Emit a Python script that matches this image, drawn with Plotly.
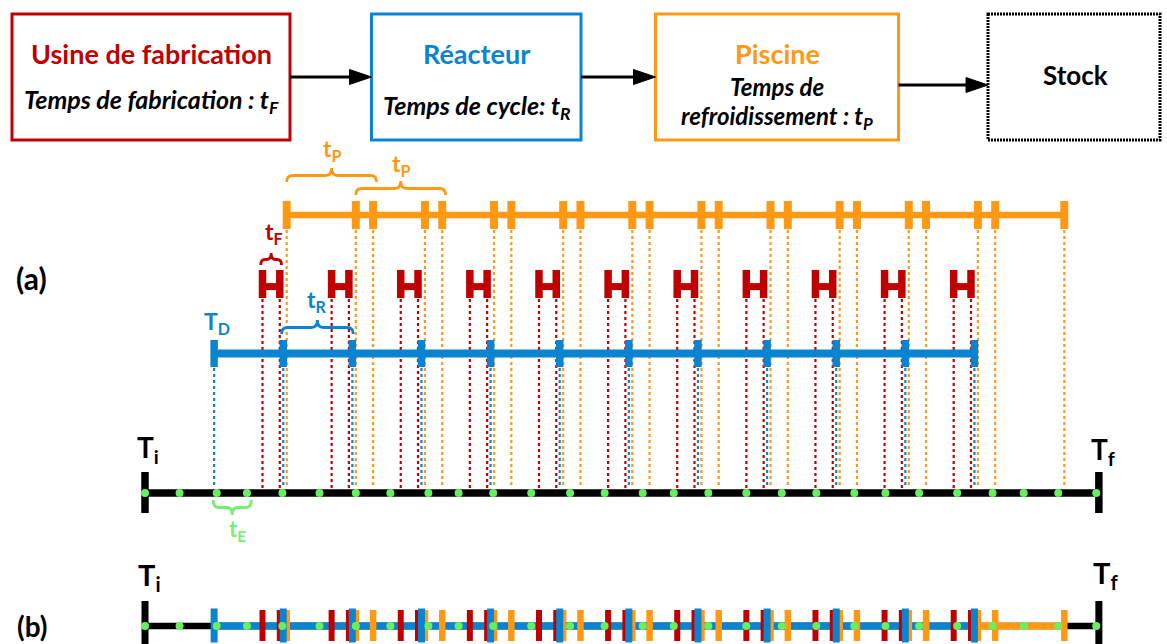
import plotly.graph_objects as go

# ---------------- data ----------------
stage_names = ["Usine de fabrication", "Réacteur", "Piscine", "Stock"]
stage_details = ["Temps de fabrication : t<sub>F</sub>",
                 "Temps de cycle: t<sub>R</sub>",
                 "Temps de<br>refroidissement : t<sub>P</sub>",
                 ""]

T_INIT = 0.0
T_FINAL = 55.2
T_D = 4.0
reactor_times = [4, 8, 12, 16, 20, 24, 28, 32, 36, 40, 44, 48]
fab_start = [6.8, 10.8, 14.8, 18.8, 22.8, 26.8, 30.8, 34.8, 38.8, 42.8, 46.8]
fab_end = [7.8, 11.8, 15.8, 19.8, 23.8, 27.8, 31.8, 35.8, 39.8, 43.8, 47.8]
pool_in = [8.2, 12.2, 16.2, 20.2, 24.2, 28.2, 32.2, 36.2, 40.2, 44.2, 48.2]
pool_out = [13.2, 17.2, 21.2, 25.2, 29.2, 33.2, 37.2, 41.2, 45.2, 49.2, 53.2]
exchange_times = [0, 2, 4.15, 5.9, 7.95, 10.1, 12.2, 14.2, 16.4, 18.15, 20.15,
                  22.35, 24.6, 26.6, 28.8, 30.6, 32.6, 34.8, 36.85, 38.85, 41.05,
                  42.85, 44.8, 47, 49.05, 50.85, 52.85, 55.05]

# ---------------- style ----------------
RED = "#C00000"
BLUE = "#0A84D0"
ORANGE = "#FF9914"
GREEN = "#66F060"
GREEN_TXT = "#74F074"
BLACK = "#000000"
FONT = "Lato"
W, H = 1167, 644
PX_PER_T = 17.28
X0_PX = 145

fig = go.Figure()


def segs(times, y0, y1):
    xs, ys = [], []
    for t in times:
        xs += [t, t, None]
        ys += [y0, y1, None]
    return xs, ys


def add_lines(xs, ys, color, width, dash=None):
    fig.add_trace(go.Scatter(x=xs, y=ys, mode="lines", hoverinfo="skip",
                             showlegend=False,
                             line=dict(color=color, width=width, dash=dash)))


def add_ticks(times, y0, y1, color, width):
    xs, ys = segs(times, y0, y1)
    add_lines(xs, ys, color, width)


def add_dots(times, y):
    fig.add_trace(go.Scatter(x=times, y=[y] * len(times), mode="markers",
                             hoverinfo="skip", showlegend=False,
                             marker=dict(color=GREEN, size=8, line=dict(width=0))))


# ---------- (a) dotted projection lines ----------
xs, ys = segs(pool_in + pool_out, 230, 488)
add_lines(xs, ys, ORANGE, 2.2, "3px,3px")
xs, ys = segs(fab_start + fab_end, 299, 488)
add_lines(xs, ys, RED, 2.2, "3px,3px")
xs, ys = segs(reactor_times, 368, 488)
add_lines(xs, ys, BLUE, 2.2, "3px,3px")

# ---------- (a) pool line ----------
add_lines([pool_in[0], pool_out[-1]], [215, 215], ORANGE, 6.5)
add_ticks(pool_in + pool_out, 201, 229, ORANGE, 8)

# ---------- (a) fabrication "H" ----------
add_ticks(fab_start + fab_end, 270, 298, RED, 7.5)
hx, hy = [], []
for s, e in zip(fab_start, fab_end):
    hx += [s, e, None]
    hy += [286.6, 286.6, None]
add_lines(hx, hy, RED, 7)

# ---------- (a) reactor line ----------
add_lines([T_D, reactor_times[-1]], [353.5, 353.5], BLUE, 8)
add_ticks(reactor_times, 340, 367, BLUE, 7.5)

# ---------- (a) time line ----------
add_lines([T_INIT, T_FINAL], [493, 493], BLACK, 7.5)
add_ticks([T_INIT, T_FINAL], 472, 513, BLACK, 7.5)
add_dots(exchange_times, 493)

# ---------- (b) ----------
YB = 626
add_lines([T_INIT, T_FINAL], [YB, YB], BLACK, 6.5)
add_lines([pool_in[0], pool_out[-1]], [YB, YB], ORANGE, 7)
add_lines([T_D, reactor_times[-1]], [YB, YB], BLUE, 7.5)
add_ticks(pool_in + pool_out, 610, 641, ORANGE, 6.5)
add_ticks(fab_start + fab_end, 610, 641, RED, 6)
add_ticks(reactor_times, 608.5, 642.5, BLUE, 7)
add_ticks([T_INIT, T_FINAL], 601, 650, BLACK, 7)
add_dots(exchange_times, YB)

# ---------- braces ----------


def brace(xa, xb, y_end, y_bar, y_tip, color, r=0.35, width=2.8):
    xm = (xa + xb) / 2
    path = (f"M {xa},{y_end} Q {xa},{y_bar} {xa + r},{y_bar} L {xm - r},{y_bar} "
            f"Q {xm},{y_bar} {xm},{y_tip} Q {xm},{y_bar} {xm + r},{y_bar} "
            f"L {xb - r},{y_bar} Q {xb},{y_bar} {xb},{y_end}")
    fig.add_shape(type="path", path=path, xref="x", yref="y",
                  line=dict(color=color, width=width))


brace(fab_start[0] - 0.1, fab_end[0] + 0.1, 265, 259.5, 253, RED, r=0.25)
brace(reactor_times[1] - 0.1, reactor_times[2] + 0.05, 334, 327.5, 320, BLUE)
brace(pool_in[0], pool_out[0] + 0.2, 182, 175.5, 168, ORANGE)
brace(pool_in[1], pool_out[1] + 0.2, 195, 188.5, 181, ORANGE)
brace(exchange_times[2] - 0.2, exchange_times[3] + 0.25, 500, 507.5, 515, GREEN_TXT, r=0.3)


def label(text, t, dx, baseline, size, color, xref="x"):
    fig.add_annotation(x=t, y=baseline - 0.33 * size, xref=xref, yref="y",
                       xanchor="left", yanchor="middle", xshift=dx - 2,
                       text=text, showarrow=False,
                       font=dict(family=FONT, size=size, color=color))


label("<b>T<sub>i</sub></b>", T_INIT, -8, 458, 28, BLACK)
label("<b>T<sub>f</sub></b>", T_FINAL, -7.5, 460, 28, BLACK)
label("<b>T<sub>i</sub></b>", T_INIT, -7, 586, 29, BLACK)
label("<b>T<sub>f</sub></b>", T_FINAL, -5.5, 584, 29, BLACK)
label("<b>T<sub>D</sub></b>", T_D, -10.5, 330, 23, BLUE)
label("<b>t<sub>F</sub></b>", (fab_start[0] + fab_end[0]) / 2, -6, 240, 23, RED)
label("<b>t<sub>R</sub></b>", (reactor_times[1] + reactor_times[2]) / 2, -11, 308, 23, BLUE)
label("<b>t<sub>P</sub></b>", (pool_in[0] + pool_out[0] + 0.2) / 2, -9, 157, 23, ORANGE)
label("<b>t<sub>P</sub></b>", (pool_in[1] + pool_out[1] + 0.2) / 2, -8.5, 172, 23, ORANGE)
label("<b>t<sub>E</sub></b>", (exchange_times[2] + exchange_times[3]) / 2, -3, 537, 22, GREEN_TXT)

# ---------- top process boxes (layout in pixel axis x2) ----------
boxes = [(12, 290, RED, "solid"), (371.5, 581, BLUE, "solid"),
         (655.5, 898.5, ORANGE, "solid"), (988, 1160, BLACK, "2px,1px")]
for (x0, x1, col, dash) in boxes:
    fig.add_shape(type="rect", xref="x2", yref="y", x0=x0, x1=x1, y0=14, y1=140,
                  line=dict(color=col, width=3, dash=dash), fillcolor="rgba(0,0,0,0)")

arrows = [(290, 371.5, 77), (581, 655.5, 77), (898.5, 988, 85)]
for (a, b, y) in arrows:
    fig.add_shape(type="line", xref="x2", yref="y", x0=a, x1=b - 18, y0=y, y1=y,
                  line=dict(color=BLACK, width=3))
    fig.add_shape(type="path", xref="x2", yref="y",
                  path=f"M {b - 22},{y - 7.5} L {b},{y} L {b - 22},{y + 7.5} Z",
                  fillcolor=BLACK, line=dict(color=BLACK, width=1))

title_pos = [(151, 53, RED, 27), (476, 53, BLUE, 27), (777, 53, ORANGE, 27),
             (1075, 75, BLACK, 26)]
for name, (x, y, col, sz) in zip(stage_names, title_pos):
    fig.add_annotation(x=x, y=y, xref="x2", yref="y", text=f"<b>{name}</b>",
                       showarrow=False, xanchor="center", yanchor="middle",
                       font=dict(family=FONT, size=sz, color=col))

detail_pos = [(151, [101], 25), (477, [107], 25), (777, [86, 117], 24)]
for det, (x, ylist, sz) in zip(stage_details, detail_pos):
    if not det:
        continue
    for line_txt, y in zip(det.split("<br>"), ylist):
        fig.add_annotation(x=x, y=y, xref="x2", yref="y",
                           text=f"<b><i>{line_txt}</i></b>",
                           showarrow=False, xanchor="center", yanchor="middle",
                           borderpad=0,
                           font=dict(family=FONT, size=sz, color=BLACK))

fig.add_annotation(x=31, y=278, xref="x2", yref="y", text="<b>(a)</b>",
                   showarrow=False, font=dict(family=FONT, size=30, color=BLACK))
fig.add_annotation(x=32, y=626, xref="x2", yref="y", text="<b>(b)</b>",
                   showarrow=False, font=dict(family=FONT, size=28, color=BLACK))

fig.update_layout(
    width=W, height=H, autosize=False,
    margin=dict(l=0, r=0, t=0, b=0, pad=0),
    paper_bgcolor="white", plot_bgcolor="white",
    showlegend=False,
    xaxis=dict(range=[-X0_PX / PX_PER_T, (W - X0_PX) / PX_PER_T], visible=False,
               fixedrange=True),
    xaxis2=dict(range=[0, W], visible=False, overlaying="x", anchor="y",
                fixedrange=True),
    yaxis=dict(range=[H, 0], visible=False, fixedrange=True),
)

fig.write_html("out.html", config={"displayModeBar": False},
               post_script="document.body.style.margin='0';"
                           "document.body.style.padding='0';"
                           "document.body.style.overflow='hidden';")
